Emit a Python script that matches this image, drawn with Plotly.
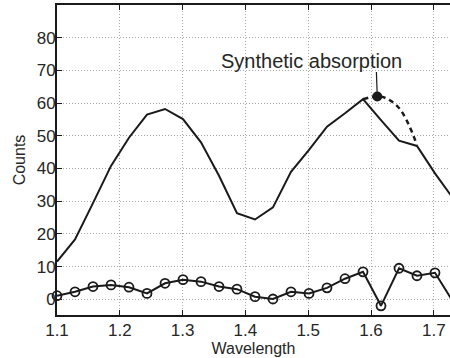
import plotly.graph_objects as go

wavelength = [1.1000, 1.1287, 1.1573, 1.1860, 1.2146, 1.2433, 1.2720, 1.3006,
              1.3293, 1.3580, 1.3866, 1.4153, 1.4439, 1.4726, 1.5013, 1.5299,
              1.5586, 1.5873, 1.6159, 1.6446, 1.6732, 1.7019, 1.7306]
spectrum = [11.5, 18.3, 29.4, 40.8, 49.4, 56.5, 58.2, 55.1, 48.0, 37.8, 26.3, 24.4,
            28.1, 39.0, 45.7, 52.8, 56.9, 61.2, 54.8, 48.5, 46.9, 38.5, 30.9]
residual = [1.1, 2.3, 3.9, 4.4, 3.7, 1.8, 4.9, 6.0, 5.4, 3.9, 3.1, 0.8, 0.1, 2.3,
            1.8, 3.5, 6.3, 8.4, -2.0, 9.5, 7.2, 8.1, -0.7]
synth_x = [1.5873, 1.6159, 1.6446, 1.6732]
synth_y = [61.2, 62.0, 58.5, 47.2]
dot_x = [1.610]
dot_y = [62.0]
pointer_x = [1.6086, 1.610]
pointer_y = [69.5, 62.0]
label_text = "Synthetic absorption"
label_x = 1.506
label_y = 73.0
xticks = [1.1, 1.2, 1.3, 1.4, 1.5, 1.6, 1.7]
yticks = [0, 10, 20, 30, 40, 50, 60, 70, 80]

ink = "#1a1a1a"
txt = "#262626"
fam = "Liberation Sans, Arial"
fig = go.Figure()
fig.add_trace(go.Scatter(x=wavelength, y=spectrum, mode="lines",
                         line=dict(color=ink, width=2)))
fig.add_trace(go.Scatter(x=synth_x, y=synth_y, mode="lines",
                         line=dict(color=ink, width=2.5, dash="5px,4px", shape="spline")))
fig.add_trace(go.Scatter(x=wavelength, y=residual, mode="lines+markers",
                         cliponaxis=False,
                         line=dict(color=ink, width=2),
                         marker=dict(symbol="circle-open", size=9, color=ink,
                                     line=dict(width=1.8, color=ink))))
fig.add_trace(go.Scatter(x=pointer_x, y=pointer_y, mode="lines",
                         line=dict(color=ink, width=1.2)))
fig.add_trace(go.Scatter(x=dot_x, y=dot_y, mode="markers",
                         marker=dict(symbol="circle", size=10, color=ink)))
fig.add_annotation(x=label_x, y=label_y, text=label_text, showarrow=False,
                   font=dict(family=fam, size=20, color=txt))

grid = dict(showgrid=True, gridcolor="#a8a8a8", griddash="1px,2px", gridwidth=1,
            zeroline=False, ticks="inside", ticklen=5, tickcolor=ink, tickwidth=1,
            showline=True, linecolor=ink, linewidth=2,
            tickfont=dict(family=fam, size=17, color=txt))
fig.update_layout(
    width=450, height=358, showlegend=False,
    margin=dict(l=57, r=0, t=5, b=43),
    plot_bgcolor="white", paper_bgcolor="white",
    font=dict(family=fam, size=17, color=txt),
    xaxis=dict(range=[1.1, 1.7258], tickvals=xticks, ticktext=[str(v) for v in xticks],
               mirror="ticks", ticklabelstandoff=-1,
               title=dict(text="Wavelength", standoff=0,
                          font=dict(family=fam, size=16, color=txt)), **grid),
    yaxis=dict(range=[-4.8, 90], tickvals=yticks, mirror=False, ticklabelstandoff=-4,
               title=dict(text="Counts", standoff=7,
                          font=dict(family=fam, size=16, color=txt)), **grid),
)
fig.write_html("out.html")
